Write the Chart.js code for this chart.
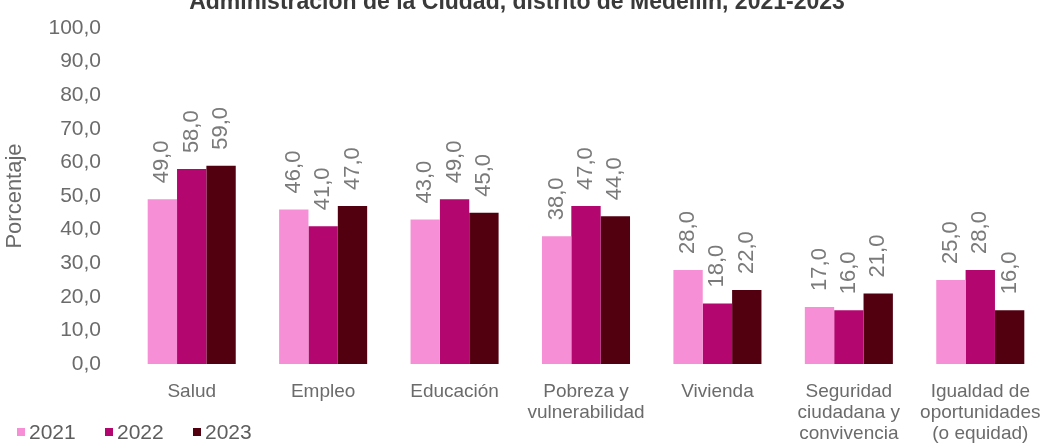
<!DOCTYPE html>
<html>
<head>
<meta charset="utf-8">
<script src="https://cdn.jsdelivr.net/npm/chart.js@4.4.1/dist/chart.umd.min.js"></script>
<style>
  html, body { margin: 0; padding: 0; background: #fff; }
  #wrap { width: 1062px; height: 446px; position: relative; }
</style>
</head>
<body>
<div id="wrap"><canvas id="grafico"></canvas></div>
<script>
var categorias = [
  ["Salud"],
  ["Empleo"],
  ["Educación"],
  ["Pobreza y", "vulnerabilidad"],
  ["Vivienda"],
  ["Seguridad", "ciudadana y", "convivencia"],
  ["Igualdad de", "oportunidades", "(o equidad)"]
];
var anos = ["2021", "2022", "2023"];
var valores2021 = [49, 46, 43, 38, 28, 17, 25];
var valores2022 = [58, 41, 49, 47, 18, 16, 28];
var valores2023 = [59, 47, 45, 44, 22, 21, 16];
var cores = ["#F78FD6", "#B3066F", "#520010"];
var titulo = "Administración de la Ciudad, distrito de Medellín, 2021-2023";
var fonte = "'Liberation Sans', Arial, sans-serif";

function fmt(v) {
  return v.toFixed(1).replace(".", ",");
}

// rotulos verticais em cima das barras
var rotulos = {
  id: "rotulos",
  afterDatasetsDraw: function (chart) {
    var ctx = chart.ctx;
    ctx.save();
    ctx.font = "22px " + fonte;
    ctx.fillStyle = "#7a7a7a";
    ctx.textAlign = "left";
    ctx.textBaseline = "middle";
    chart.data.datasets.forEach(function (ds, i) {
      var meta = chart.getDatasetMeta(i);
      meta.data.forEach(function (bar, j) {
        ctx.save();
        ctx.translate(bar.x, bar.y - 16);
        ctx.rotate(-Math.PI / 2);
        ctx.fillText(fmt(ds.data[j]), 0, 0);
        ctx.restore();
      });
    });
    ctx.restore();
  }
};

// titulo cortado e legenda embaixo a esquerda
var extras = {
  id: "extras",
  afterDraw: function (chart) {
    var ctx = chart.ctx;
    ctx.save();
    ctx.font = "bold 23px " + fonte;
    ctx.fillStyle = "#3a3a3a";
    ctx.textAlign = "center";
    ctx.textBaseline = "middle";
    ctx.fillText(titulo, 517, 3);

    ctx.font = "21px " + fonte;
    ctx.textAlign = "left";
    var x = 17;
    chart.data.datasets.forEach(function (ds) {
      ctx.fillStyle = ds.backgroundColor;
      ctx.fillRect(x, 428, 8, 8);
      ctx.fillStyle = "#5e5e5e";
      ctx.fillText(ds.label, x + 12, 433);
      x += 88;
    });
    ctx.restore();
  }
};

var ctx = document.getElementById("grafico");
var data = {
  labels: categorias,
  datasets: [
    { label: anos[0], data: valores2021, backgroundColor: cores[0] },
    { label: anos[1], data: valores2022, backgroundColor: cores[1] },
    { label: anos[2], data: valores2023, backgroundColor: cores[2] }
  ]
};

var config = {
  type: "bar",
  data,
  options: {
    responsive: true,
    maintainAspectRatio: false,
    animation: false,
    layout: { padding: { top: 28, right: 16, left: 2, bottom: 0 } },
    datasets: {
      bar: { categoryPercentage: 0.67, barPercentage: 1.0 }
    },
    plugins: {
      legend: { display: false },
      title: { display: false },
      tooltip: { enabled: false }
    },
    scales: {
      x: {
        grid: { display: false, drawTicks: false },
        border: { display: false },
        afterFit: function (scale) { scale.height = 82; },
        ticks: {
          color: "#6b6b6b",
          font: { family: fonte, size: 19, lineHeight: 1.12 },
          padding: 17,
          maxRotation: 0,
          autoSkip: false
        }
      },
      y: {
        min: 0,
        max: 100,
        grid: { display: false, drawTicks: false },
        border: { display: false },
        afterFit: function (scale) {
          scale.width = 124;
          scale.paddingTop = 0;
          scale.paddingBottom = 0;
        },
        title: {
          display: true,
          text: "Porcentaje",
          color: "#6b6b6b",
          font: { family: fonte, size: 22 },
          padding: { top: 0, bottom: 0 }
        },
        ticks: {
          stepSize: 10,
          color: "#6b6b6b",
          font: { family: fonte, size: 21 },
          padding: 25,
          callback: function (v) { return fmt(v); }
        }
      }
    }
  },
  plugins: [rotulos, extras]
};

var myChart = new Chart(ctx, config);
</script>
</body>
</html>
